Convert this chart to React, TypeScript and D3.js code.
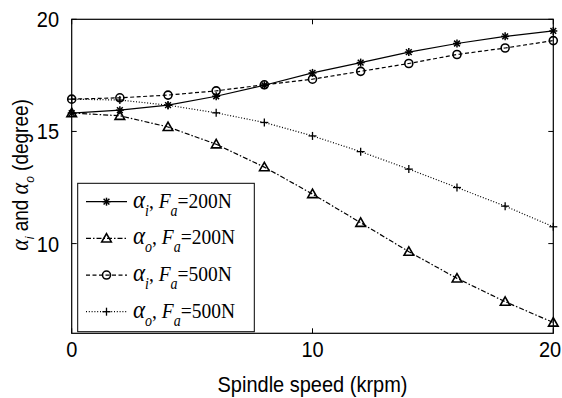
import React from "react";
import * as d3 from "d3";

const speed = [0, 2, 4, 6, 8, 10, 12, 14, 16, 18, 20];
const alphaI200 = [15.82, 15.95, 16.17, 16.57, 17.06, 17.61, 18.07, 18.54, 18.92, 19.24, 19.48];
const alphaO200 = [15.82, 15.7, 15.2, 14.43, 13.41, 12.21, 10.93, 9.64, 8.45, 7.41, 6.48];
const alphaI500 = [16.44, 16.5, 16.62, 16.81, 17.08, 17.33, 17.68, 18.03, 18.43, 18.72, 19.05];
const alphaO500 = [16.44, 16.4, 16.17, 15.83, 15.4, 14.8, 14.1, 13.32, 12.5, 11.67, 10.75];
const xTicks = [0, 10, 20];
const yTicks = [10, 15, 20];
const legendSub = ["i", "o", "i", "o"];
const legendForce = ["200N", "200N", "500N", "500N"];

type MarkerKind = "star" | "tri" | "circle" | "plus";

const series: { values: number[]; dash: string; marker: MarkerKind }[] = [
  { values: alphaI200, dash: "none", marker: "star" },
  { values: alphaO200, dash: "5,2,1.5,2", marker: "tri" },
  { values: alphaI500, dash: "4,2.5", marker: "circle" },
  { values: alphaO500, dash: "1,1.8", marker: "plus" },
];

const W = 562;
const H = 398;
const L = 71.7, R = 553.3, T = 19.3, B = 333.3;
const SY = 1.12;

function Marker({ kind, x, y }: { kind: MarkerKind; x: number; y: number }) {
  const s = 4;
  if (kind === "star") {
    const d = s * 0.72;
    return (
      <g stroke="#000" strokeWidth={1.5}>
        <line x1={x - s} y1={y} x2={x + s} y2={y} />
        <line x1={x} y1={y - s} x2={x} y2={y + s} />
        <line x1={x - d} y1={y - d} x2={x + d} y2={y + d} />
        <line x1={x - d} y1={y + d} x2={x + d} y2={y - d} />
      </g>
    );
  }
  if (kind === "tri") {
    const h = 4.8;
    return (
      <path
        d={`M${x},${y - h}L${x + h},${y + h * 0.75}L${x - h},${y + h * 0.75}Z`}
        fill="none"
        stroke="#000"
        strokeWidth={1.6}
      />
    );
  }
  if (kind === "circle") {
    return <circle cx={x} cy={y} r={4} fill="none" stroke="#000" strokeWidth={1.6} />;
  }
  return (
    <g stroke="#000" strokeWidth={1.3}>
      <line x1={x - s} y1={y} x2={x + s} y2={y} />
      <line x1={x} y1={y - s} x2={x} y2={y + s} />
    </g>
  );
}

export default function App() {
  const x = d3.scaleLinear().domain([0, 20]).range([L, R]);
  const y = d3.scaleLinear().domain([6, 20]).range([B, T]);
  const line = d3
    .line<[number, number]>()
    .x((d) => x(d[0]))
    .y((d) => y(d[1]));

  const sans = "'Liberation Sans', Arial, sans-serif";
  const serif = "'Liberation Serif', 'Times New Roman', serif";
  const tickLen = 5;

  const legX0 = 77.7, legX1 = 254.3, legY0 = 183.3, legY1 = 331.7;
  const rowY = d3.scaleLinear().domain([0, 3]).range([201.7, 311.7]);

  return (
    <svg
      width={W}
      height={H}
      style={{ position: "absolute", left: 0, top: 0, background: "#fff" }}
    >
      <rect x={0} y={0} width={W} height={H} fill="#fff" />
      {/* data lines */}
      {series.map((s, i) => (
        <path
          key={"l" + i}
          d={line(speed.map((v, j) => [v, s.values[j]] as [number, number])) || ""}
          fill="none"
          stroke="#000"
          strokeWidth={1.2}
          strokeDasharray={s.dash === "none" ? undefined : s.dash}
        />
      ))}
      {series.map((s, i) =>
        speed.map((v, j) => (
          <Marker key={"m" + i + "_" + j} kind={s.marker} x={x(v)} y={y(s.values[j])} />
        ))
      )}
      {/* frame */}
      <rect x={L} y={T} width={R - L} height={B - T} fill="none" stroke="#000" strokeWidth={1.2} />
      {xTicks.map((t) => (
        <g key={"xt" + t}>
          <line x1={x(t)} x2={x(t)} y1={B} y2={B - tickLen} stroke="#000" />
          <line x1={x(t)} x2={x(t)} y1={T} y2={T + tickLen} stroke="#000" />
          <text
            transform={`translate(${Math.min(x(t), W - 12)}, 357) scale(1, ${SY})`}
            textAnchor="middle"
            fontFamily={sans}
            fontSize={20}
          >
            {t}
          </text>
        </g>
      ))}
      {yTicks.map((t) => (
        <g key={"yt" + t}>
          <line x1={L} x2={L + tickLen} y1={y(t)} y2={y(t)} stroke="#000" />
          <line x1={R} x2={R - tickLen} y1={y(t)} y2={y(t)} stroke="#000" />
          <text
            transform={`translate(59, ${y(t) + 8}) scale(1, ${SY})`}
            textAnchor="end"
            fontFamily={sans}
            fontSize={20}
          >
            {t}
          </text>
        </g>
      ))}
      {/* axis labels */}
      <text
        transform={`translate(${(L + R) / 2}, 392) scale(1, ${SY})`}
        textAnchor="middle"
        fontFamily={sans}
        fontSize={20}
      >
        Spindle speed (krpm)
      </text>
      <text
        transform={`translate(28, 175) rotate(-90) scale(1, ${SY})`}
        textAnchor="middle"
        fontFamily={sans}
        fontSize={19}
      >
        <tspan fontFamily={serif} fontStyle="italic" fontSize={22}>α</tspan>
        <tspan fontSize={12} dy={5} fontStyle="italic">i</tspan>
        <tspan dy={-5}> and </tspan>
        <tspan fontFamily={serif} fontStyle="italic" fontSize={22}>α</tspan>
        <tspan fontSize={12} dy={5} fontStyle="italic">o</tspan>
        <tspan dy={-5}> (degree)</tspan>
      </text>
      {/* legend */}
      <rect
        x={legX0}
        y={legY0}
        width={legX1 - legX0}
        height={legY1 - legY0}
        fill="#fff"
        stroke="#000"
        strokeWidth={1}
      />
      {series.map((s, i) => {
        const ry = rowY(i);
        return (
          <g key={"lg" + i}>
            <line
              x1={86}
              x2={127}
              y1={ry}
              y2={ry}
              stroke="#000"
              strokeWidth={1.2}
              strokeDasharray={s.dash === "none" ? undefined : s.dash}
            />
            <Marker kind={s.marker} x={106.5} y={ry} />
            <text
              transform={`translate(133, ${ry + 6}) scale(1, ${SY})`}
              fontFamily={serif}
              fontSize={19.5}
            >
              <tspan fontStyle="italic" fontSize={23}>α</tspan>
              <tspan fontStyle="italic" fontSize={14} dy={7}>{legendSub[i]}</tspan>
              <tspan dy={-7}>, </tspan>
              <tspan fontStyle="italic">F</tspan>
              <tspan fontStyle="italic" fontSize={14} dy={7}>a</tspan>
              <tspan dy={-7}>={legendForce[i]}</tspan>
            </text>
          </g>
        );
      })}
    </svg>
  );
}
